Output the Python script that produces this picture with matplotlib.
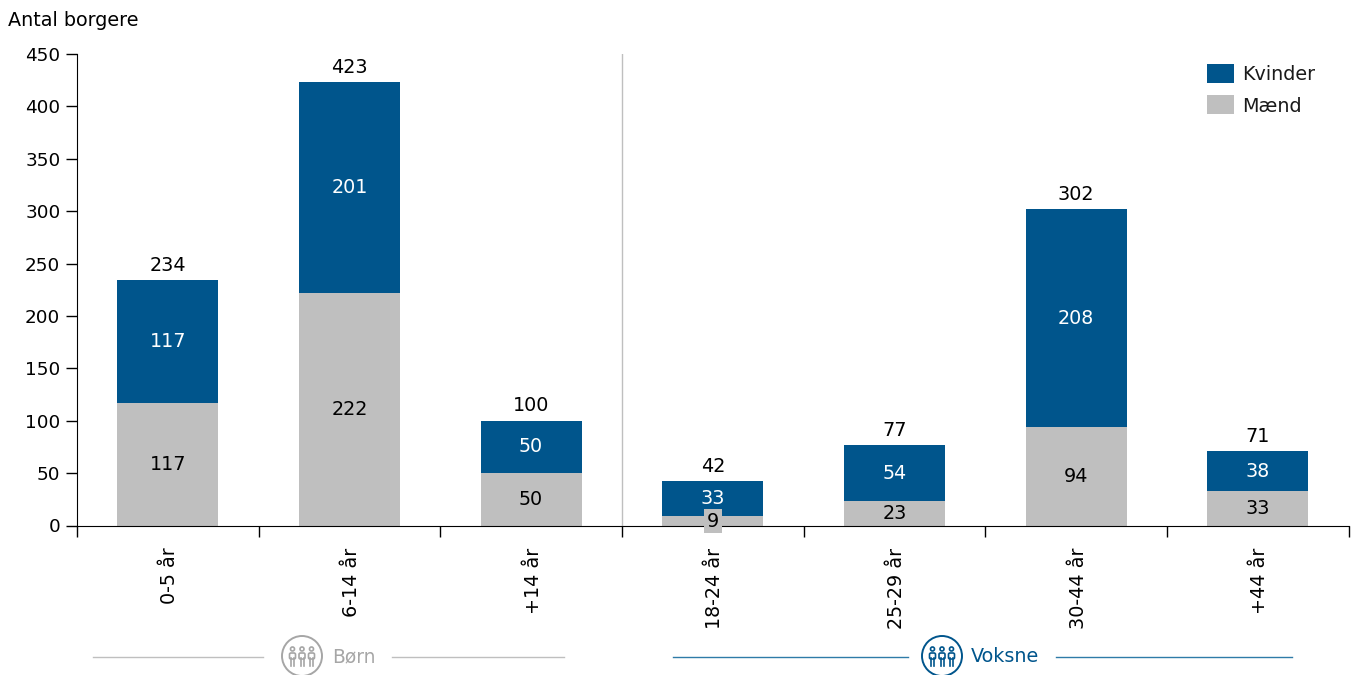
import matplotlib
matplotlib.use('Agg')
import matplotlib.pyplot as plt
from matplotlib.patches import Circle, Rectangle, FancyBboxPatch
from matplotlib.transforms import ScaledTranslation

plt.rcParams['font.family'] = ['DejaVu Sans']
plt.rcParams['font.size'] = 13.8

categories = ['0-5 år', '6-14 år', '+14 år', '18-24 år', '25-29 år', '30-44 år', '+44 år']
maend = [117, 222, 50, 9, 23, 94, 33]
kvinder = [117, 201, 50, 33, 54, 208, 38]
totals = [234, 423, 100, 42, 77, 302, 71]
yticks = [0, 50, 100, 150, 200, 250, 300, 350, 400, 450]

BLUE = '#00558C'
GREY = '#BFBFBF'
W, H = 1354, 675

fig = plt.figure(figsize=(W / 100, H / 100), dpi=100)
ax = fig.add_axes([77 / W, (H - 525.5) / H, 1271.5 / W, 471.5 / H])

x = range(len(categories))
ax.bar(x, maend, width=0.556, color=GREY, label='Mænd')
ax.bar(x, kvinder, width=0.556, bottom=maend, color=BLUE, label='Kvinder')

for i in x:
    ax.text(i, maend[i] + kvinder[i] / 2, str(kvinder[i]), color='white', ha='center', va='center')
    if maend[i] < 15:
        # small value gets its own grey box, sits over the axis line
        ax.text(i, maend[i] / 2 - 0.5, str(maend[i]), color='black', ha='center', va='center', zorder=5,
                bbox=dict(facecolor=GREY, edgecolor='none', pad=2), clip_on=False)
    else:
        ax.text(i, maend[i] / 2, str(maend[i]), color='black', ha='center', va='center')
    ax.text(i, maend[i] + kvinder[i] + 5, str(totals[i]), color='black', ha='center', va='bottom')

ax.axvline(2.5, color='#BFBFBF', lw=1)

ax.set_xlim(-0.5, 6.5)
ax.set_ylim(0, 450)
ax.set_yticks(yticks)
ax.set_xticks([i - 0.5 for i in range(8)])
ax.set_xticklabels([])
ax.set_xticks(list(x), labels=categories, minor=True, rotation=90)
ax.tick_params(axis='x', which='major', length=8, width=1)
ax.tick_params(axis='x', which='minor', length=0, pad=16)
ax.tick_params(axis='y', length=8, width=1, pad=4, labelsize=13.2)
ax.spines['top'].set_visible(False)
ax.spines['right'].set_visible(False)

# rotated labels sit about 2 px too far left otherwise
nudge = ScaledTranslation(2 / 100, 0, fig.dpi_scale_trans)
for lab in ax.get_xticklabels(minor=True):
    lab.set_transform(lab.get_transform() + nudge)

fig.text(8 / W, 1 - 20 / H, 'Antal borgere', ha='left', va='center')

# overlay in pixel coordinates for legend and group headers
ov = fig.add_axes([0, 0, 1, 1])
ov.set_xlim(0, W)
ov.set_ylim(H, 0)
ov.axis('off')
ov.patch.set_alpha(0)

ov.add_patch(Rectangle((1207, 64), 27, 19, color=BLUE, lw=0))
ov.add_patch(Rectangle((1207, 95), 27, 19, color=GREY, lw=0))
ov.text(1242, 74.5, 'Kvinder', va='center', ha='left', color='#1a1a1a')
ov.text(1242, 106, 'Mænd', va='center', ha='left', color='#1a1a1a')


def icon(cx, cy, col):
    ov.add_patch(Circle((cx, cy), 20, fill=False, ec=col, lw=1.4, clip_on=False))
    for dx in (-9.5, 0, 9.5):
        ov.add_patch(Circle((cx + dx, cy - 7), 2, fill=False, ec=col, lw=1.2))
        ov.add_patch(FancyBboxPatch((cx + dx - 3, cy - 3), 6, 6,
                                    boxstyle='round,pad=0,rounding_size=1.5', fill=False, ec=col, lw=1.2))
        ov.plot([cx + dx - 1.5, cx + dx - 1.5], [cy + 2, cy + 10], color=col, lw=1.2)
        ov.plot([cx + dx + 1.5, cx + dx + 1.5], [cy + 2, cy + 10], color=col, lw=1.2)


BORN = '#A6A6A6'
ov.plot([93, 263], [657, 657], color=GREY, lw=1)
ov.plot([392, 564], [657, 657], color=GREY, lw=1)
icon(302, 656, BORN)
ov.text(332, 657, 'Børn', color=BORN, va='center', ha='left', fontsize=13.4)

LINE_BLUE = '#2F7BA8'
ov.plot([673, 908], [657, 657], color=LINE_BLUE, lw=1)
ov.plot([1056, 1292], [657, 657], color=LINE_BLUE, lw=1)
icon(942, 656, BLUE)
ov.text(971, 657, 'Voksne', color=BLUE, va='center', ha='left')

fig.savefig('out.png', dpi=100)
